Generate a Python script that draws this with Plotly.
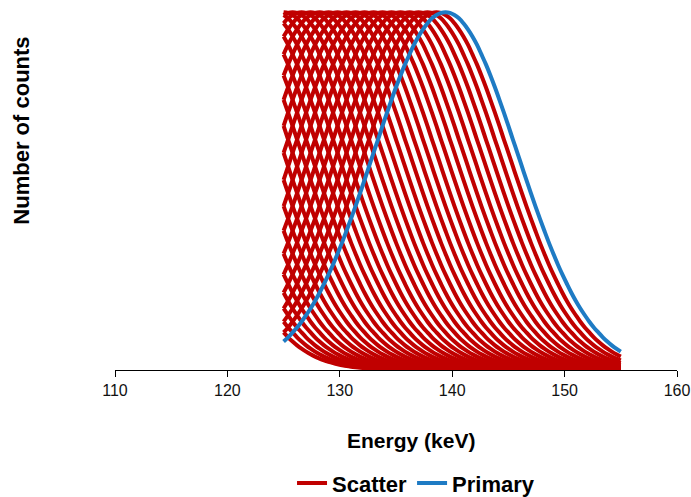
import plotly.graph_objects as go

# Normalised peak profile: counts vs. |offset| from the peak (0.4 keV steps)
profile_step = 0.4
profile_half = [1.000, 0.998, 0.992, 0.983, 0.969, 0.952, 0.932, 0.909, 0.882, 0.854,
                0.823, 0.790, 0.755, 0.719, 0.682, 0.644, 0.607, 0.569, 0.531, 0.494,
                0.458, 0.423, 0.389, 0.356, 0.325, 0.295, 0.267, 0.241, 0.216, 0.193,
                0.172, 0.153, 0.135, 0.119, 0.105, 0.0914, 0.0796, 0.0690, 0.0596, 0.0513,
                0.0439, 0.0375, 0.0319, 0.0270, 0.0228, 0.0192, 0.0160, 0.0134, 0.0111, 0.0092,
                0.0076, 0.0062, 0.0051, 0.0041, 0.0034, 0.0027, 0.0021, 0.0017, 0.0013, 0.0010,
                0.0008, 0.0006, 0.0005, 0.0004, 0.0003, 0.0002, 0.0002, 0.0001, 0.0001, 0.0001,
                0.0, 0.0, 0.0, 0.0, 0.0, 0.0]

# Scatter peak energies (keV): curves mirrored about the 125 keV window edge
scatter_peaks = [111.4, 112.2, 113.0, 113.8, 114.6, 115.4, 116.2, 117.0, 117.8,
                 118.6, 119.4, 120.2, 121.0, 121.8, 122.6, 123.4, 124.2,
                 125.0, 125.8, 126.6, 127.4, 128.2, 129.0, 129.8, 130.6, 131.4,
                 132.2, 133.0, 133.8, 134.6, 135.4, 136.2, 137.0, 137.8, 138.6]
primary_peak = 139.4

# Energy window (keV)
window_low = 125.0
window_high = 155.0

x_ticks = [110, 120, 130, 140, 150, 160]

RED = "#C00000"
BLUE = "#1E7BC4"
FONT = "Arial, Liberation Sans, sans-serif"

n = len(profile_half)
offsets = [-(n - 1 - i) * profile_step for i in range(n - 1)] + [i * profile_step for i in range(n)]
values = [profile_half[n - 1 - i] for i in range(n - 1)] + profile_half


def curve(center):
    xs, ys = [], []
    for o, v in zip(offsets, values):
        e = round(center + o, 4)
        if window_low - 1e-6 <= e <= window_high + 1e-6:
            xs.append(e)
            ys.append(v)
    return xs, ys


fig = go.Figure()
for i, c in enumerate(scatter_peaks):
    xs, ys = curve(c)
    fig.add_trace(go.Scatter(
        x=xs, y=ys, mode="lines", name="Scatter", legendgroup="scatter",
        showlegend=(i == 0), line=dict(color=RED, width=4, shape="spline")))

xs, ys = curve(primary_peak)
fig.add_trace(go.Scatter(x=xs, y=ys, mode="lines", name="Primary",
                         line=dict(color=BLUE, width=4, shape="spline")))

BOLD = dict(size=21, family=FONT, weight="bold", color="#000000")
BOLD_L = dict(size=22, family=FONT, weight="bold", color="#000000")

fig.update_layout(
    width=691, height=497,
    margin=dict(l=115, r=14, t=5, b=127, autoexpand=False),
    plot_bgcolor="white", paper_bgcolor="white",
    font=dict(family=FONT, color="#000000"),
    xaxis=dict(range=[110, 160], tickvals=x_ticks, ticktext=[str(t) for t in x_ticks],
               showgrid=False, zeroline=False, showline=True, linecolor="#000000",
               linewidth=1.3, ticks="outside", ticklen=6, tickcolor="#000000",
               tickfont=dict(size=16, family=FONT, color="#111111")),
    yaxis=dict(range=[0, 1.02], visible=False, showgrid=False, zeroline=False),
    showlegend=True,
    legend=dict(orientation="h", x=0.315, xanchor="left", y=-0.31, yanchor="middle",
                font=BOLD_L, itemwidth=30, tracegroupgap=0, bgcolor="rgba(0,0,0,0)"),
    annotations=[
        dict(text="Energy (keV)", xref="paper", yref="paper", x=0.527, y=-0.192,
             xanchor="center", yanchor="middle", showarrow=False, font=BOLD),
        dict(text="Number of counts", xref="paper", yref="paper", x=-0.166, y=0.655,
             xanchor="center", yanchor="middle", textangle=-90, showarrow=False,
             font=BOLD_L),
    ],
)

fig.write_html("out.html", config={"displayModeBar": False},
               post_script="document.body.style.margin='0';")
